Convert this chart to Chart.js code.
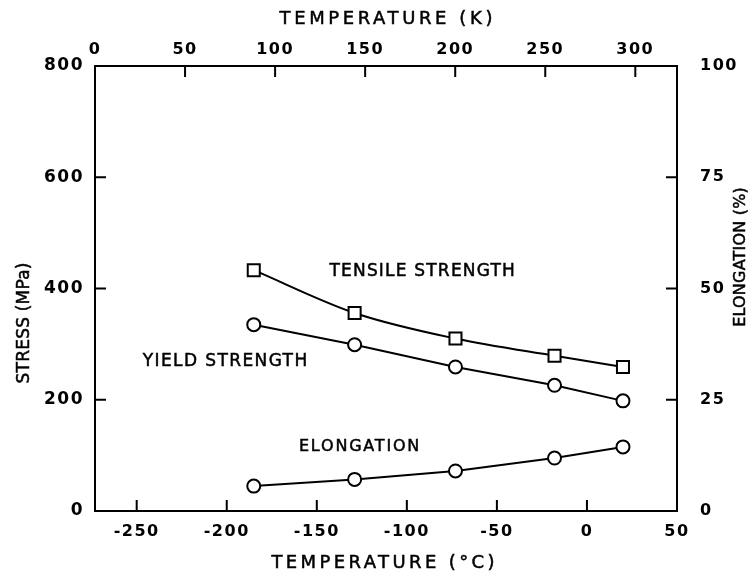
<!DOCTYPE html>
<html>
<head>
<meta charset="utf-8">
<title>Stress and elongation vs temperature</title>
<script src="https://cdn.jsdelivr.net/npm/chart.js@4.4.1/dist/chart.umd.min.js"></script>
<style>
    html, body { margin: 0; padding: 0; background: #fff; }
    #chart { display: block; }
</style>
</head>
<body>
<canvas id="chart" width="752" height="577"></canvas>
<script>
// test temperatures (deg C) and the measured values
const temperaturesC = [-185, -129, -73, -18, 20];
const tensileStrength = [433, 356, 310, 279, 259]; // MPa
const yieldStrength = [335, 299, 259, 226, 198];   // MPa
const elongation = [5.6, 7.1, 9.0, 11.9, 14.4];    // %

// axis ticks
const celsiusTicks = [-250, -200, -150, -100, -50, 0, 50];
const kelvinTicks = [0, 50, 100, 150, 200, 250, 300];
const stressTicks = [0, 200, 400, 600, 800];
const elongationTicks = [0, 25, 50, 75, 100];

const KELVIN_OFFSET = 273.15;
const FONT = '"DejaVu Sans", sans-serif';
const TICK_LEN = 11;

const toPoints = (ys) => temperaturesC.map((t, i) => ({ x: t, y: ys[i] }));

// curve labels, placed in data coordinates (x in deg C, y in MPa)
const curveLabels = [
    { text: 'TENSILE STRENGTH', x: -91.5, y: 431, size: 17, spacing: 1.2 },
    { text: 'YIELD STRENGTH', x: -201, y: 268, size: 17, spacing: 1.4 },
    { text: 'ELONGATION', x: -126.5, y: 115, size: 16, spacing: 1.8 }
];

// inward tick marks on all four sides
const inwardTicks = {
    id: 'inwardTicks',
    afterDraw(chart) {
        const { ctx, chartArea: a, scales } = chart;
        ctx.save();
        ctx.strokeStyle = '#000';
        ctx.lineWidth = 2;
        ctx.beginPath();
        scales.x.ticks.forEach(t => {
            const px = scales.x.getPixelForValue(t.value);
            ctx.moveTo(px, a.bottom); ctx.lineTo(px, a.bottom - TICK_LEN);
        });
        scales.x2.ticks.forEach(t => {
            const px = scales.x2.getPixelForValue(t.value);
            ctx.moveTo(px, a.top); ctx.lineTo(px, a.top + TICK_LEN);
        });
        scales.y.ticks.forEach(t => {
            const py = scales.y.getPixelForValue(t.value);
            ctx.moveTo(a.left, py); ctx.lineTo(a.left + TICK_LEN, py);
        });
        scales.y2.ticks.forEach(t => {
            const py = scales.y2.getPixelForValue(t.value);
            ctx.moveTo(a.right, py); ctx.lineTo(a.right - TICK_LEN, py);
        });
        ctx.stroke();
        ctx.restore();
    }
};

function drawText(ctx, text, x, y, size, spacing, rotation) {
    ctx.save();
    ctx.translate(x, y);
    if (rotation) ctx.rotate(rotation);
    ctx.font = `${size}px ${FONT}`;
    ctx.letterSpacing = `${spacing}px`;
    ctx.fillStyle = '#000';
    ctx.strokeStyle = '#000';
    ctx.lineWidth = 0.5; // plotter pen is a bit heavier than the font
    ctx.textAlign = 'center';
    ctx.textBaseline = 'middle';
    ctx.fillText(text, spacing / 2, 0);
    ctx.strokeText(text, spacing / 2, 0);
    ctx.restore();
}

// axis titles and curve labels
const textLayer = {
    id: 'textLayer',
    beforeDraw(chart) {
        // wide plotter-ish lettering for the tick numbers
        chart.ctx.letterSpacing = '1.5px';
    },
    afterDraw(chart) {
        const { ctx, chartArea: a, scales } = chart;
        const cx = (a.left + a.right) / 2;
        drawText(ctx, 'TEMPERATURE (K)', cx, 19, 18, 3.6);
        drawText(ctx, 'TEMPERATURE (\u00B0C)', cx - 3, 563, 18, 3.4);
        drawText(ctx, 'STRESS (MPa)', 25, 323, 17, 0.2, -Math.PI / 2);
        drawText(ctx, 'ELONGATION (%)', 741, 257, 16, 0.2, -Math.PI / 2);

        curveLabels.forEach(l => {
            drawText(ctx, l.text, scales.x.getPixelForValue(l.x), scales.y.getPixelForValue(l.y), l.size, l.spacing);
        });
    }
};

const axisBase = (ticks, size) => ({
    type: 'linear',
    afterBuildTicks: s => { s.ticks = ticks.map(v => ({ value: v })); },
    grid: { drawOnChartArea: false, drawTicks: false },
    border: { color: '#000', width: 2 },
    ticks: {
        color: '#000',
        font: { family: FONT, size: size, weight: 'bold' },
        autoSkip: false,
        maxRotation: 0
    }
});

const xBottom = axisBase(celsiusTicks, 16);
xBottom.position = 'bottom';
xBottom.min = -KELVIN_OFFSET;
xBottom.max = 50;
xBottom.ticks.padding = 11;
xBottom.afterFit = s => { s.height = 66; };

const xTop = axisBase(kelvinTicks, 16);
xTop.position = 'top';
xTop.min = 0;
xTop.max = 50 + KELVIN_OFFSET;
xTop.ticks.padding = 7;
xTop.afterFit = s => { s.height = 66; };

const yLeft = axisBase(stressTicks, 17);
yLeft.position = 'left';
yLeft.min = 0;
yLeft.max = 800;
yLeft.ticks.padding = 11;
yLeft.afterFit = s => { s.width = 95; };

const yRight = axisBase(elongationTicks, 16);
yRight.position = 'right';
yRight.min = 0;
yRight.max = 100;
yRight.ticks.padding = 23;
yRight.afterFit = s => { s.width = 75; };

const seriesStyle = {
    borderColor: '#000',
    borderWidth: 2,
    pointBackgroundColor: '#fff',
    pointBorderColor: '#000',
    pointBorderWidth: 2,
    fill: false
};

new Chart(document.getElementById('chart'), {
    type: 'line',
    data: {
        datasets: [
            Object.assign({
                label: 'Tensile strength',
                data: toPoints(tensileStrength),
                xAxisID: 'x', yAxisID: 'y',
                pointStyle: 'rect',
                pointRadius: 8.5,
                cubicInterpolationMode: 'monotone'
            }, seriesStyle),
            Object.assign({
                label: 'Yield strength',
                data: toPoints(yieldStrength),
                xAxisID: 'x', yAxisID: 'y',
                pointStyle: 'circle',
                pointRadius: 6.5,
                tension: 0
            }, seriesStyle),
            Object.assign({
                label: 'Elongation',
                data: toPoints(elongation),
                xAxisID: 'x', yAxisID: 'y2',
                pointStyle: 'circle',
                pointRadius: 6.5,
                tension: 0
            }, seriesStyle)
        ]
    },
    options: {
        responsive: false,
        animation: false,
        devicePixelRatio: 1,
        layout: { padding: 0 },
        plugins: {
            legend: { display: false },
            tooltip: { enabled: false }
        },
        scales: { x: xBottom, x2: xTop, y: yLeft, y2: yRight }
    },
    plugins: [inwardTicks, textLayer]
});
</script>
</body>
</html>
